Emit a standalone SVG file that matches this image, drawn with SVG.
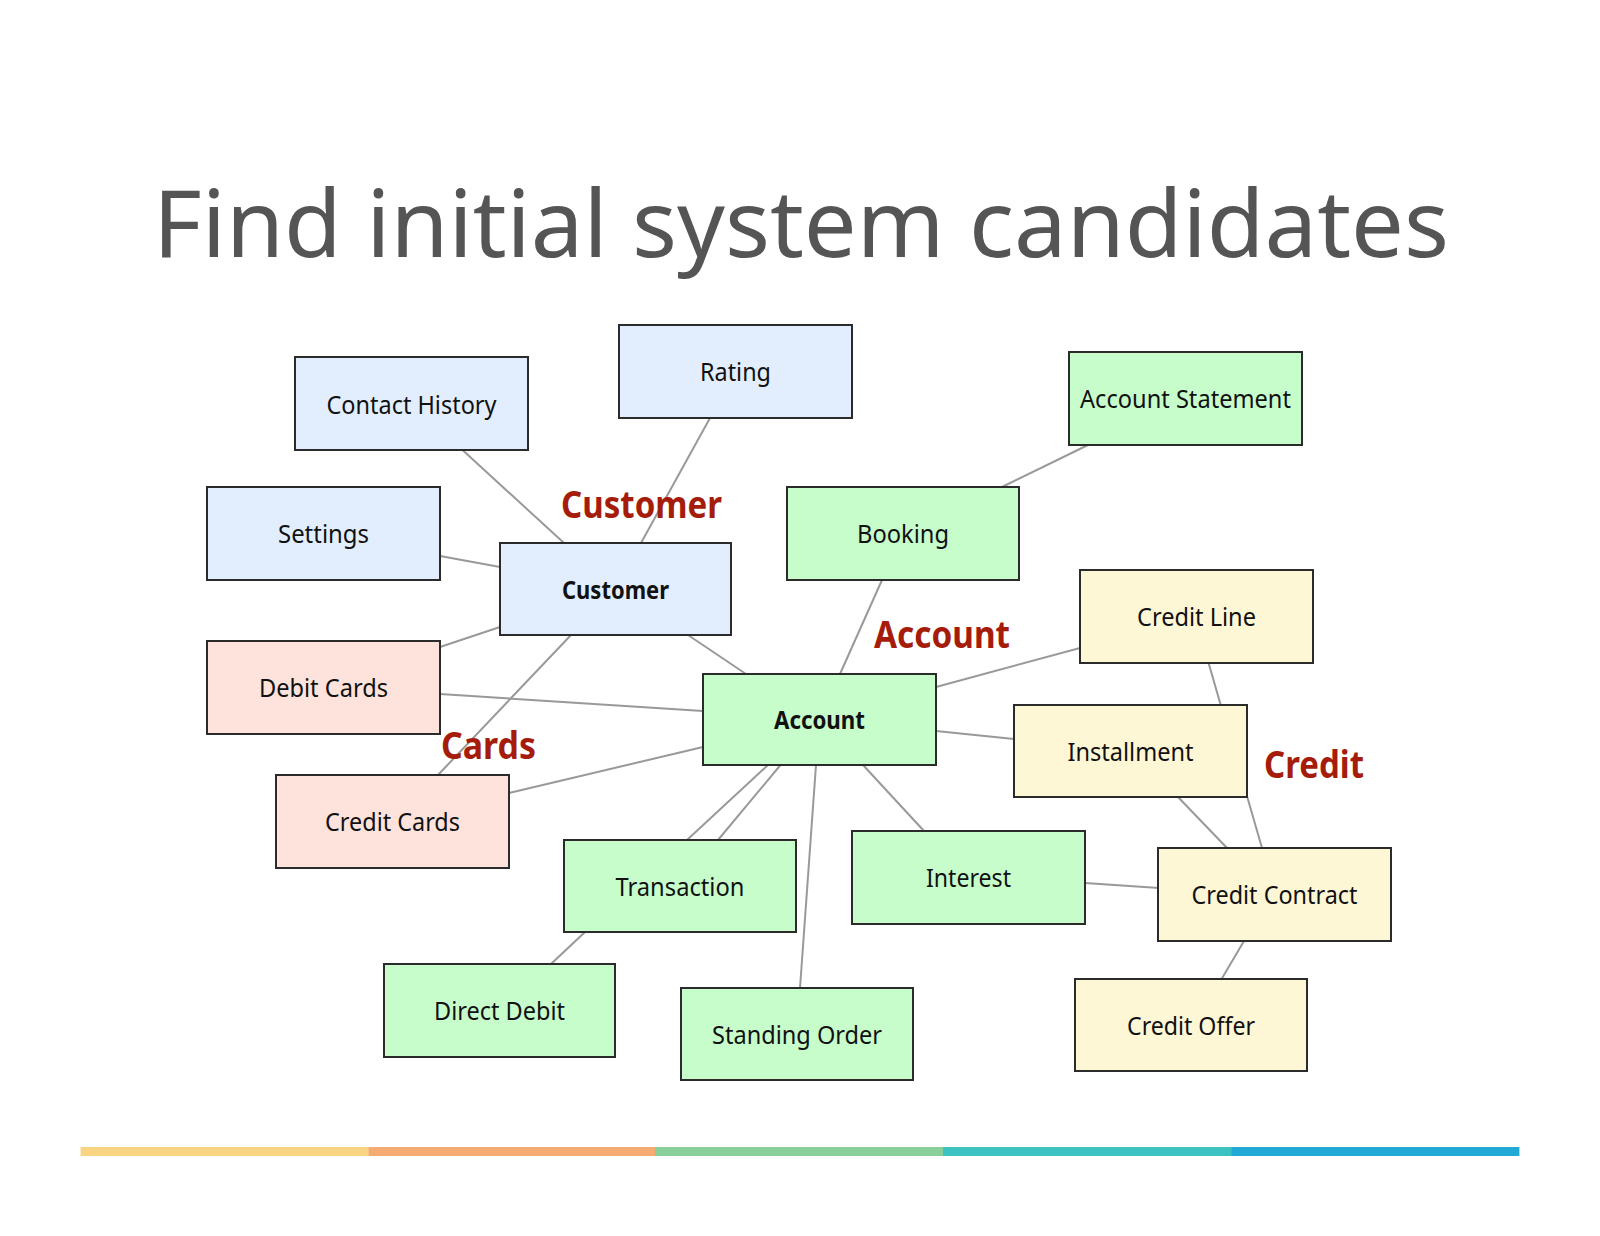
<svg xmlns="http://www.w3.org/2000/svg" width="1600" height="1236" viewBox="0 0 1600 1236">
<style>
.n rect{stroke:#2b2b2b;stroke-width:2}
.blue rect{fill:#e2eefd}
.green rect{fill:#c7fdca}
.pink rect{fill:#fde3dc}
.yellow rect{fill:#fdf7d6}
.n text{font-family:"Noto Sans","Open Sans",sans-serif;font-size:25px;fill:#111;text-anchor:middle}
.n text.b{font-weight:bold}
#connectors line{stroke:#999;stroke-width:2}
.grp{font-family:"Noto Sans","Open Sans",sans-serif;font-size:37px;font-weight:bold;fill:#a61c0a}
.title{font-family:"Noto Sans","Open Sans",sans-serif;font-size:94px;fill:#555}
</style>
<rect width="1600" height="1236" fill="#fff"/>
<text class="title" x="153" y="257" textLength="1296" lengthAdjust="spacingAndGlyphs">Find initial system candidates</text>
<g id="connectors">
<line x1="462.5" y1="450" x2="564" y2="543"/>
<line x1="710" y1="418" x2="641" y2="543"/>
<line x1="440" y1="556" x2="500" y2="567"/>
<line x1="440" y1="647" x2="500" y2="627"/>
<line x1="571" y1="635" x2="438" y2="775"/>
<line x1="688" y1="635" x2="746" y2="674"/>
<line x1="440" y1="694" x2="703" y2="711"/>
<line x1="509" y1="793" x2="703" y2="747"/>
<line x1="768" y1="765" x2="687" y2="840"/>
<line x1="780.5" y1="765" x2="718" y2="840"/>
<line x1="585" y1="932" x2="551" y2="964"/>
<line x1="816" y1="765" x2="800" y2="988"/>
<line x1="863" y1="765" x2="924" y2="831"/>
<line x1="882" y1="580" x2="840" y2="674"/>
<line x1="1088" y1="445" x2="1002" y2="487"/>
<line x1="936" y1="687" x2="1080" y2="648"/>
<line x1="936" y1="731" x2="1014" y2="739"/>
<line x1="1208.6" y1="663" x2="1262" y2="848"/>
<line x1="1178" y1="797" x2="1227" y2="848"/>
<line x1="1085" y1="883" x2="1159" y2="888"/>
<line x1="1244" y1="941" x2="1221.6" y2="979"/>
</g>
<g id="contact-history" class="n blue"><rect x="295" y="357" width="233" height="93"/><text x="411.5" y="413.5" textLength="170" lengthAdjust="spacingAndGlyphs">Contact History</text></g>
<g id="rating" class="n blue"><rect x="619" y="325" width="233" height="93"/><text x="735.5" y="381" textLength="71" lengthAdjust="spacingAndGlyphs">Rating</text></g>
<g id="settings" class="n blue"><rect x="207" y="487" width="233" height="93"/><text x="323.5" y="543" textLength="91" lengthAdjust="spacingAndGlyphs">Settings</text></g>
<g id="customer" class="n blue"><rect x="500" y="543" width="231" height="92"/><text class="b" x="615.5" y="598.5" textLength="107" lengthAdjust="spacingAndGlyphs">Customer</text></g>
<g id="debit-cards" class="n pink"><rect x="207" y="641" width="233" height="93"/><text x="323.5" y="697" textLength="129" lengthAdjust="spacingAndGlyphs">Debit Cards</text></g>
<g id="credit-cards" class="n pink"><rect x="276" y="775" width="233" height="93"/><text x="392.5" y="831" textLength="135" lengthAdjust="spacingAndGlyphs">Credit Cards</text></g>
<g id="account-statement" class="n green"><rect x="1069" y="352" width="233" height="93"/><text x="1185.5" y="408" textLength="211" lengthAdjust="spacingAndGlyphs">Account Statement</text></g>
<g id="booking" class="n green"><rect x="787" y="487" width="232" height="93"/><text x="903" y="543" textLength="92" lengthAdjust="spacingAndGlyphs">Booking</text></g>
<g id="account" class="n green"><rect x="703" y="674" width="233" height="91"/><text class="b" x="819.5" y="729" textLength="91" lengthAdjust="spacingAndGlyphs">Account</text></g>
<g id="transaction" class="n green"><rect x="564" y="840" width="232" height="92"/><text x="680" y="896" textLength="129" lengthAdjust="spacingAndGlyphs">Transaction</text></g>
<g id="interest" class="n green"><rect x="852" y="831" width="233" height="93"/><text x="968.5" y="887" textLength="85" lengthAdjust="spacingAndGlyphs">Interest</text></g>
<g id="direct-debit" class="n green"><rect x="384" y="964" width="231" height="93"/><text x="499.5" y="1020" textLength="131" lengthAdjust="spacingAndGlyphs">Direct Debit</text></g>
<g id="standing-order" class="n green"><rect x="681" y="988" width="232" height="92"/><text x="797" y="1044" textLength="170" lengthAdjust="spacingAndGlyphs">Standing Order</text></g>
<g id="credit-line" class="n yellow"><rect x="1080" y="570" width="233" height="93"/><text x="1196.5" y="626" textLength="119" lengthAdjust="spacingAndGlyphs">Credit Line</text></g>
<g id="installment" class="n yellow"><rect x="1014" y="705" width="233" height="92"/><text x="1130.5" y="761" textLength="126" lengthAdjust="spacingAndGlyphs">Installment</text></g>
<g id="credit-contract" class="n yellow"><rect x="1158" y="848" width="233" height="93"/><text x="1274.5" y="904" textLength="166" lengthAdjust="spacingAndGlyphs">Credit Contract</text></g>
<g id="credit-offer" class="n yellow"><rect x="1075" y="979" width="232" height="92"/><text x="1191" y="1035" textLength="128" lengthAdjust="spacingAndGlyphs">Credit Offer</text></g>
<g id="group-labels">
<text class="grp" x="561" y="518" textLength="161" lengthAdjust="spacingAndGlyphs">Customer</text>
<text class="grp" x="874" y="648" textLength="136" lengthAdjust="spacingAndGlyphs">Account</text>
<text class="grp" x="441" y="759" textLength="95" lengthAdjust="spacingAndGlyphs">Cards</text>
<text class="grp" x="1264" y="778" textLength="100" lengthAdjust="spacingAndGlyphs">Credit</text>
</g>
<g id="color-bar">
<rect x="80.6" y="1147" width="288" height="9" fill="#f9d583"/>
<rect x="368.4" y="1147" width="287" height="9" fill="#f5ac74"/>
<rect x="655" y="1147" width="288" height="9" fill="#88cf9c"/>
<rect x="943" y="1147" width="289" height="9" fill="#3dc2c2"/>
<rect x="1231.6" y="1147" width="287.8" height="9" fill="#23a9d5"/>
</g>
</svg>
